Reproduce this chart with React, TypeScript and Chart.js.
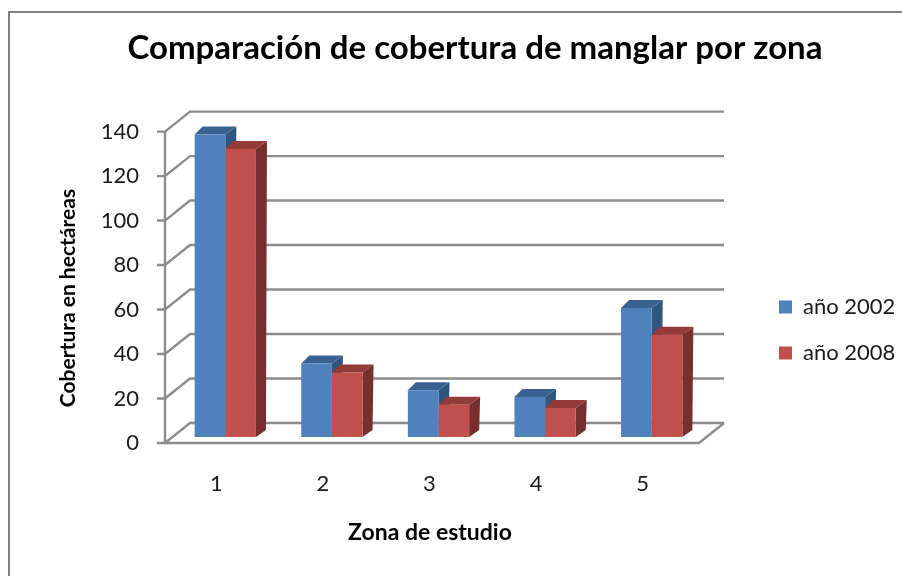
import React, { useEffect, useRef } from "react";
import { Chart, registerables } from "chart.js";

Chart.register(...registerables);

const zones = ["1", "2", "3", "4", "5"];
const year2002 = [136, 33, 21, 18, 58];
const year2008 = [129.5, 29, 14.5, 13, 46];
const seriesNames = ["año 2002", "año 2008"];
const titleText = "Comparación de cobertura de manglar por zona";
const yTitle = "Cobertura en hectáreas";
const xTitle = "Zona de estudio";

const FONT = "Lato, 'Open Sans', sans-serif";
const GRID = "#8c8c8c";
const TEXT = "#1a1a1a";
const WALL = { x: 25, y: -20 };

const scene = {
  id: "scene3d",
  afterLayout(chart: any) {
    const l = chart.legend;
    l.top += 42;
    l.bottom += 42;
  },
  beforeDraw(chart: any) {
    const c = chart.ctx;
    c.save();
    c.fillStyle = "#808080";
    c.fillRect(8, 11, 2, 565);
    c.fillRect(8, 11, 894, 2);
    c.restore();
  },
  beforeDatasetsDraw(chart: any) {
    const c = chart.ctx;
    const y = chart.scales.y;
    const area = chart.chartArea;
    const fx = area.left - 7;
    const fr = area.right - 6;
    c.save();
    c.strokeStyle = GRID;
    c.lineWidth = 2.4;
    const line = (pts: number[][]) => {
      c.beginPath();
      pts.forEach((p, i) => (i ? c.lineTo(p[0], p[1]) : c.moveTo(p[0], p[1])));
      c.stroke();
    };
    y.ticks.forEach((t: any) => {
      const py = y.getPixelForValue(t.value);
      line([[fx - 8, py], [fx, py], [fx + WALL.x, py + WALL.y], [fr + WALL.x, py + WALL.y]]);
    });
    line([[fx, y.top], [fx, y.bottom]]);
    const b = y.bottom;
    line([[fx, b], [fr, b], [fr + WALL.x, b + WALL.y]]);

    chart.data.datasets.forEach((ds: any, di: number) => {
      const meta = chart.getDatasetMeta(di);
      meta.data.forEach((el: any) => {
        const w = el.width / 2;
        const L = el.x - w, R = el.x + w, T = el.y, B = el.base;
        c.fillStyle = ds.sideColor;
        c.beginPath();
        c.moveTo(R, T); c.lineTo(R + 11, T - 8); c.lineTo(R + 10, B - 7); c.lineTo(R, B);
        c.closePath(); c.fill();
        c.fillStyle = ds.topColor;
        c.beginPath();
        c.moveTo(L, T); c.lineTo(L + 8, T - 8); c.lineTo(R + 11, T - 8); c.lineTo(R, T);
        c.closePath(); c.fill();
      });
    });
    c.restore();
  },
  afterDraw(chart: any) {
    const c = chart.ctx;
    c.save();
    c.fillStyle = "#000";
    c.textAlign = "center";
    c.textBaseline = "middle";
    c.font = `bold 23px ${FONT}`;
    c.fillText(xTitle, 430, 533);
    c.font = `bold 21px ${FONT}`;
    c.translate(68, 298);
    c.rotate(-Math.PI / 2);
    c.fillText(yTitle, 0, 0);
    c.restore();
  },
};

export default function App() {
  const ref = useRef<HTMLCanvasElement>(null);
  useEffect(() => {
    document.body.style.margin = "0";
    const chart = new Chart(ref.current!, {
      type: "bar",
      data: {
        labels: zones,
        datasets: [
          { label: seriesNames[0], data: year2002, backgroundColor: "#4F81BD", yAxisID: "yBars", sideColor: "#2F5581", topColor: "#3A6291" } as any,
          { label: seriesNames[1], data: year2008, backgroundColor: "#C0504D", yAxisID: "yBars", sideColor: "#772F2D", topColor: "#933B39" } as any,
        ],
      },
      plugins: [scene],
      options: {
        responsive: false,
        animation: false,
        layout: { padding: { left: 55, right: 7, top: 0, bottom: 0 } },
        datasets: { bar: { barPercentage: 1, categoryPercentage: 0.575 } },
        plugins: {
          tooltip: { enabled: false },
          title: {
            display: true,
            text: titleText,
            color: "#000",
            font: { family: FONT, size: 33, weight: "bold" },
            padding: { top: 29, bottom: 63 },
          },
          legend: {
            position: "right",
            labels: {
              boxWidth: 13,
              boxHeight: 13,
              padding: 24,
              color: TEXT,
              font: { family: FONT, size: 22 },
            },
          },
        },
        scales: {
          x: {
            grid: { display: false, drawTicks: false },
            border: { display: false },
            afterFit: (s: any) => { s.height = 133; },
            ticks: { color: TEXT, font: { family: FONT, size: 22 }, labelOffset: -9, padding: 28, maxRotation: 0 },
          },
          y: {
            min: 0,
            max: 140,
            grid: { display: false, drawTicks: false },
            border: { display: false },
            afterFit: (s: any) => { s.width = 117; },
            ticks: { stepSize: 20, color: TEXT, font: { family: FONT, size: 22 }, padding: 33 },
          },
          yBars: {
            position: "right",
            min: -2.7,
            max: 137.3,
            grid: { display: false, drawTicks: false },
            border: { display: false },
            afterFit: (s: any) => { s.width = 50; },
            ticks: { display: false },
          },
        },
      } as any,
    });
    return () => chart.destroy();
  }, []);
  return <canvas ref={ref} width={902} height={576} style={{ display: "block", width: 902, height: 576, background: "#fff", filter: "blur(0.6px)" }} />;
}
